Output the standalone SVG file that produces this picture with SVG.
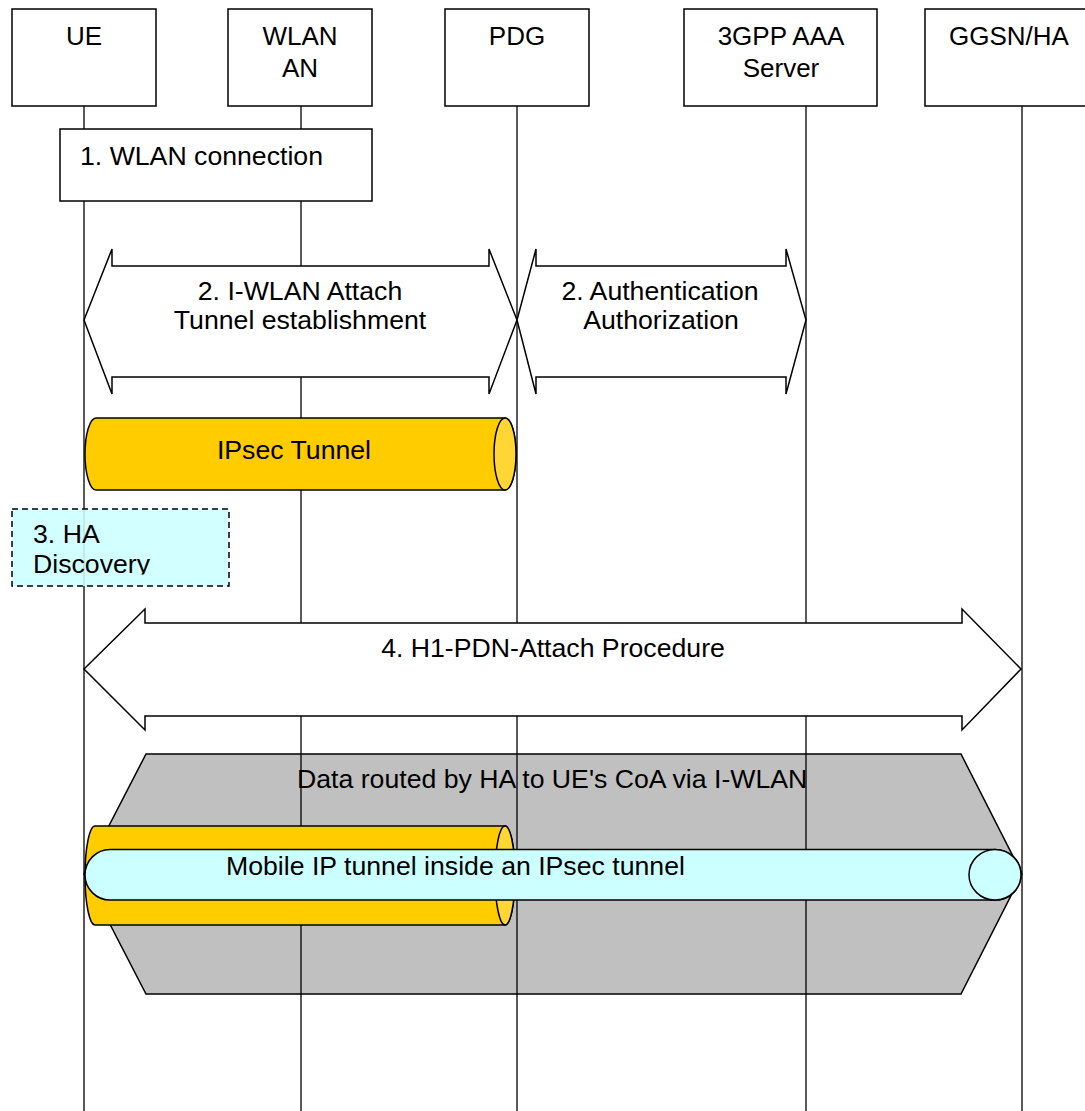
<svg xmlns="http://www.w3.org/2000/svg" width="1085" height="1111" viewBox="0 0 1085 1111">
<style>
text{font-family:"Liberation Sans",Arial,sans-serif;font-size:26.67px;fill:#000}
.c{text-anchor:middle}
.hdr{font-size:26px}
.box{fill:#fff;stroke:#000;stroke-width:1.5}
.life{stroke:#000;stroke-width:1.3;fill:none}
.arrow{fill:#fff;stroke:#000;stroke-width:1.5;stroke-linejoin:miter}
.ipsec{fill:#FFCC00;stroke:#000;stroke-width:1.5}
.ipsecEnd{fill:#FFD633;stroke:#000;stroke-width:1.5}
.mip{fill:#CCFFFF;stroke:#000;stroke-width:1.5}
</style>
<defs>
<clipPath id="haClip"><rect x="12" y="509" width="217" height="65.5"/></clipPath>
</defs>

<g id="data-routed">
<polygon points="146,754 961,754 1022,874 961,994 146,994 84,874" fill="#C0C0C0" stroke="#000" stroke-width="1.5"/>
</g>

<g id="connectors">
<line class="life" x1="84" y1="106" x2="84" y2="1111"/>
<line class="life" x1="301" y1="106" x2="301" y2="1111"/>
<line class="life" x1="517" y1="106" x2="517" y2="1111"/>
<line class="life" x1="806" y1="106" x2="806" y2="1111"/>
<line class="life" x1="1022" y1="106" x2="1022" y2="1111"/>
</g>

<text x="297" y="788">Data routed by HA to UE's CoA via I-WLAN</text>

<g id="ue">
<rect class="box" x="12" y="9" width="144" height="97"/>
<text class="c hdr" x="84" y="45">UE</text>
</g>
<g id="wlan-an">
<rect class="box" x="228" y="9" width="144" height="97"/>
<text class="c hdr" x="300" y="45">WLAN</text>
<text class="c hdr" x="300" y="77">AN</text>
</g>
<g id="pdg">
<rect class="box" x="445" y="9" width="144" height="97"/>
<text class="c hdr" x="517" y="45">PDG</text>
</g>
<g id="aaa">
<rect class="box" x="684" y="9" width="193" height="97"/>
<text class="c hdr" x="781" y="45">3GPP AAA</text>
<text class="c hdr" x="781" y="77">Server</text>
</g>
<g id="ggsn-ha">
<rect class="box" x="925" y="9" width="170" height="97"/>
<text class="hdr" x="949" y="45">GGSN/HA</text>
</g>

<g id="wlan-connection">
<rect class="box" x="60" y="129" width="312" height="72"/>
<text x="80" y="165">1. WLAN connection</text>
</g>

<g id="iwlan-attach">
<polygon class="arrow" points="84,320 112,249 112,266 489,266 489,249 517,320 489,394 489,377 112,377 112,394"/>
<text class="c" x="300" y="300">2. I-WLAN Attach</text>
<text class="c" x="300" y="329">Tunnel establishment</text>
</g>

<g id="auth">
<polygon class="arrow" points="517,320 536,249 536,266 786,266 786,249 806,320 786,394 786,377 536,377 536,394"/>
<text class="c" x="660" y="300">2. Authentication</text>
<text class="c" x="661" y="329">Authorization</text>
</g>

<g id="ipsec-tunnel">
<path class="ipsec" d="M96,418 L505,418 A11,36 0 0 1 505,490 L96,490 A11,36 0 0 1 96,418 Z"/>
<ellipse class="ipsecEnd" cx="505" cy="454" rx="11" ry="36"/>
<text class="c" x="294" y="459">IPsec Tunnel</text>
</g>

<g id="ha-discovery">
<rect x="12" y="509" width="217" height="77" fill="#CCFFFF" fill-opacity="0.88" stroke="#000" stroke-width="1.5" stroke-dasharray="6,4"/>
<g clip-path="url(#haClip)">
<text x="33" y="543">3. HA</text>
<text x="33" y="573">Discovery</text>
</g>
</g>

<g id="h1-pdn-attach">
<polygon class="arrow" points="84,669 145,609 145,623 962,623 962,609 1021,669 962,730 962,716 145,716 145,730"/>
<text class="c" x="553" y="657">4. H1-PDN-Attach Procedure</text>
</g>

<g id="ipsec-tunnel-2">
<path class="ipsec" d="M95,826 L505,826 A10,49.5 0 0 1 505,925 L95,925 A10,49.5 0 0 1 95,826 Z"/>
<ellipse class="ipsecEnd" cx="505" cy="875.5" rx="10" ry="49.5"/>
</g>

<g id="mobile-ip-tunnel">
<path class="mip" d="M110,849.5 L995,849.5 A26,25.25 0 0 1 995,900 L110,900 A25,25.25 0 0 1 110,849.5 Z"/>
<ellipse class="mip" cx="995" cy="874.75" rx="26" ry="25.25"/>
<text x="226" y="875">Mobile IP tunnel inside an IPsec tunnel</text>
</g>
</svg>
